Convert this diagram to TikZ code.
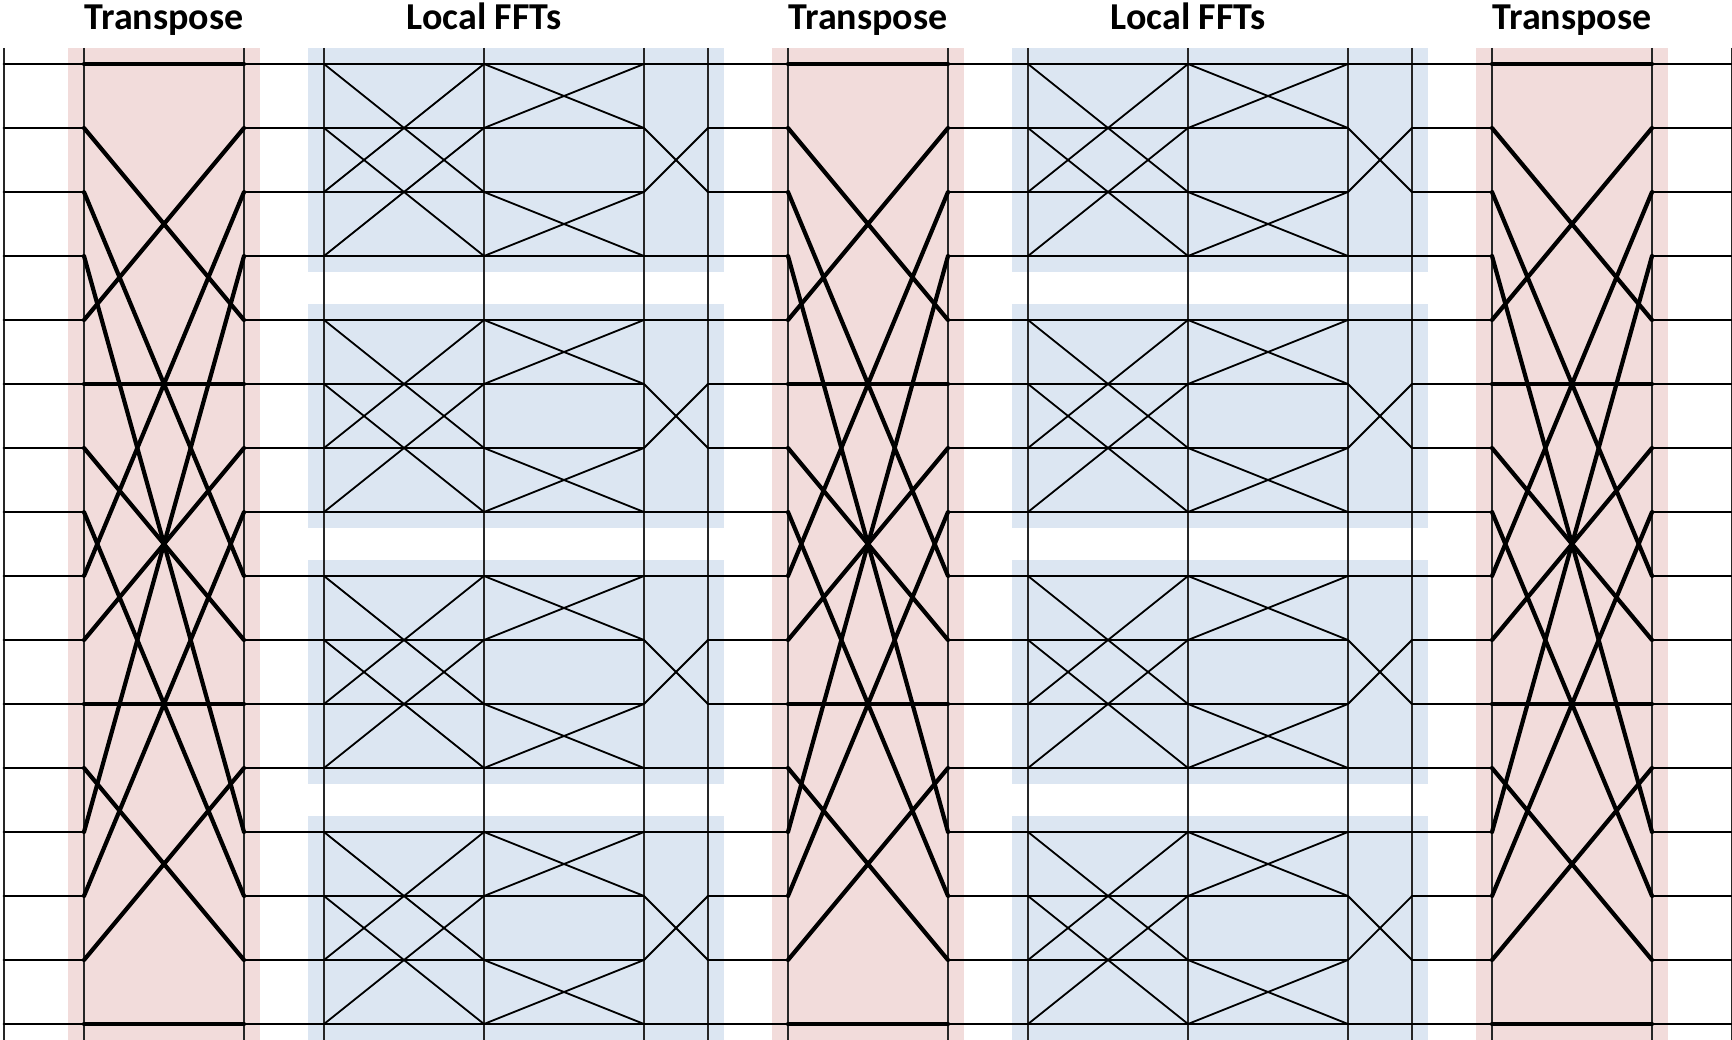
\documentclass[tikz,border=0pt]{standalone}
\usepackage{fontspec}
\setmainfont{Carlito}
\definecolor{tbg}{HTML}{F2DCDB}
\definecolor{fbg}{HTML}{DCE6F2}
\begin{document}
\begin{tikzpicture}[x=1pt,y=-1pt,
  vln/.style={line width=1.4pt,black!85},
  hln/.style={line width=2.8pt,line cap=round},
  tln/.style={line width=4.2pt,line cap=round},
  fln/.style={line width=1.8pt,line cap=round},
  ttl/.style={font=\bfseries\fontsize{38}{42}\selectfont,anchor=base}]
\useasboundingbox (0,0) rectangle (1732,1040);
% named coordinates: columns x rows
\foreach \k/\xx in {0/4,1/84,2/244,3/324,4/484,5/644,6/708,7/788,8/948,9/1028,10/1188,11/1348,12/1412,13/1492,14/1652,15/1731.4}{
  \coordinate (top\k) at (\xx,48);
  \coordinate (bot\k) at (\xx,1040);
  \foreach \r in {0,...,15}{
    \coordinate (p\k-\r) at (\xx,64+64*\r);
  }
}
% transpose backgrounds
\foreach \ca/\cb in {1/2,7/8,13/14}{
  \fill[tbg] ([xshift=-16pt]top\ca) rectangle ([xshift=16pt]bot\cb);
}
% local FFT backgrounds
\foreach \ca/\cb in {3/6,9/12}{
  \foreach \g in {0,...,3}{
    \pgfmathtruncatemacro\rf{4*\g}
    \pgfmathtruncatemacro\rl{4*\g+3}
    \fill[fbg] ([shift={(-16,-16)}]p\ca-\rf) rectangle ([shift={(16,16)}]p\cb-\rl);
  }
}
% vertical lines
\foreach \k in {0,...,15}{
  \draw[vln] (top\k) -- (bot\k);
}
% horizontal lines between stages
\foreach \ca/\cb in {0/1,2/3,6/7,8/9,12/13,14/15}{
  \foreach \r in {0,...,15}{
    \draw[hln] (p\ca-\r) -- (p\cb-\r);
  }
}
% transposes
\foreach \ca/\cb in {1/2,7/8,13/14}{
  \foreach \i in {0,...,3}{
    \foreach \j in {0,...,3}{
      \pgfmathtruncatemacro\src{4*\i+\j}
      \pgfmathtruncatemacro\dst{4*\j+\i}
      \draw[tln] (p\ca-\src) -- (p\cb-\dst);
    }
  }
}
% local FFTs
\foreach \ca/\cb/\cc/\cd in {3/4/5/6,9/10/11/12}{
  \foreach \g in {0,...,3}{
    \pgfmathtruncatemacro\ra{4*\g}
    \pgfmathtruncatemacro\rb{4*\g+1}
    \pgfmathtruncatemacro\rc{4*\g+2}
    \pgfmathtruncatemacro\rd{4*\g+3}
    \foreach \r in {\ra,\rb,\rc,\rd}{
      \draw[fln] (p\ca-\r) -- (p\cb-\r);
      \draw[fln] (p\cb-\r) -- (p\cc-\r);
    }
    \draw[fln] (p\ca-\ra) -- (p\cb-\rc);
    \draw[fln] (p\ca-\rc) -- (p\cb-\ra);
    \draw[fln] (p\ca-\rb) -- (p\cb-\rd);
    \draw[fln] (p\ca-\rd) -- (p\cb-\rb);
    \draw[fln] (p\cb-\ra) -- (p\cc-\rb);
    \draw[fln] (p\cb-\rb) -- (p\cc-\ra);
    \draw[fln] (p\cb-\rc) -- (p\cc-\rd);
    \draw[fln] (p\cb-\rd) -- (p\cc-\rc);
    \draw[fln] (p\cc-\ra) -- (p\cd-\ra);
    \draw[fln] (p\cc-\rd) -- (p\cd-\rd);
    \draw[fln] (p\cc-\rb) -- (p\cd-\rc);
    \draw[fln] (p\cc-\rc) -- (p\cd-\rb);
  }
}
% titles
\node[ttl] (title1) at (164,30) {Transpose};
\node[ttl] (title2) at (484,30) {Local FFTs};
\node[ttl] (title3) at (868,30) {Transpose};
\node[ttl] (title4) at (1188,30) {Local FFTs};
\node[ttl] (title5) at (1572,30) {Transpose};
\end{tikzpicture}
\end{document}
